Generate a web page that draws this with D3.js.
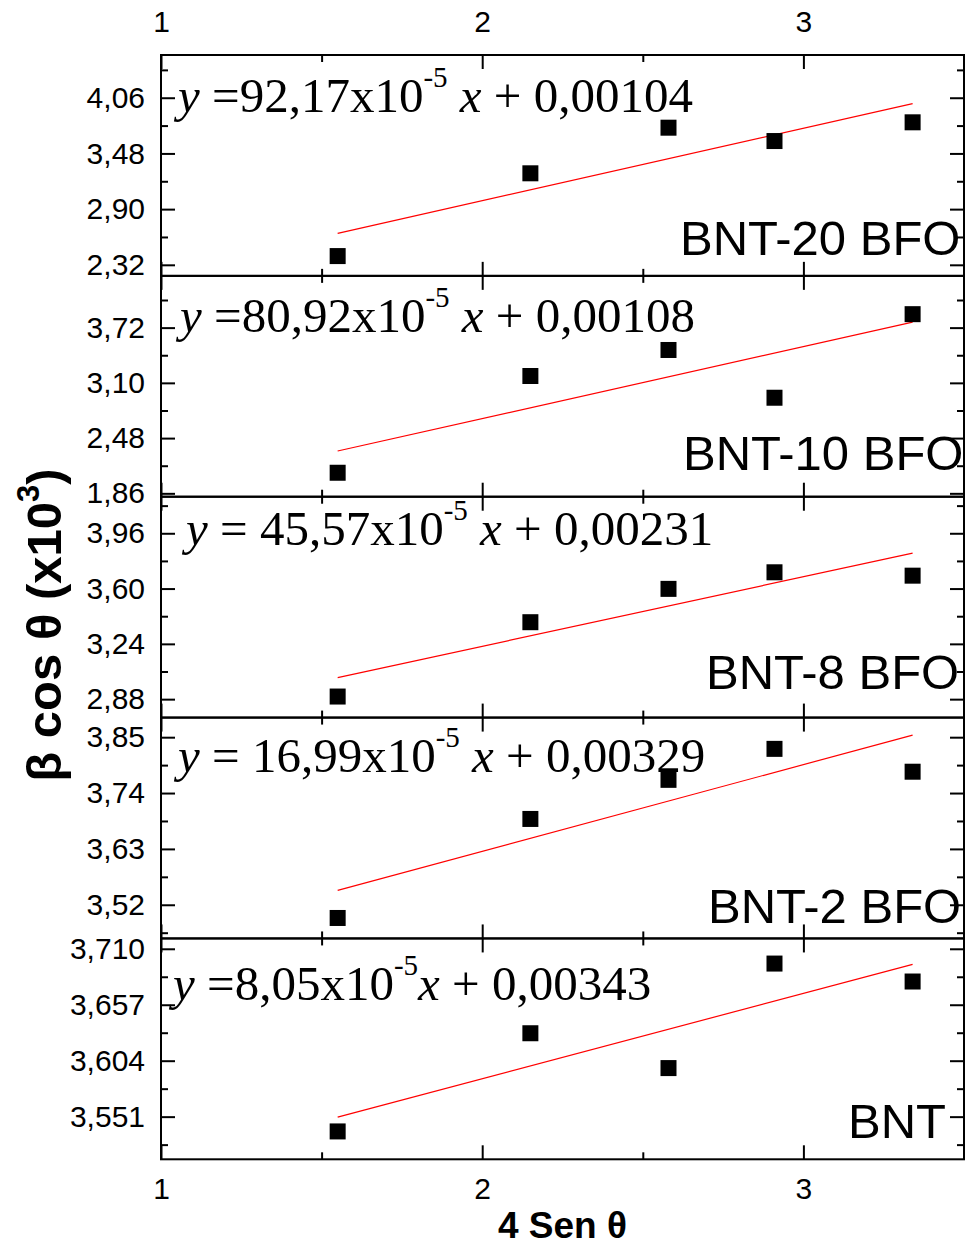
<!DOCTYPE html>
<html>
<head>
<meta charset="utf-8">
<script src="https://cdn.jsdelivr.net/npm/d3@7"></script>
<style>
    body { margin: 0; background: #fff; }
    svg { display: block; }
</style>
</head>
<body>
<main></main>
<script>
const width = 967;
const height = 1245;
const plotLeft = 161;
const plotRight = 964;
const plotTop = 55;
const plotBottom = 1159.3;

// data
const samples = ["BNT-20 BFO", "BNT-10 BFO", "BNT-8 BFO", "BNT-2 BFO", "BNT"];
const xValues = [1.55, 2.15, 2.58, 2.91, 3.34];
const yBNT20 = [2.411, 3.273, 3.748, 3.609, 3.804];
const yBNT10 = [2.091, 3.177, 3.469, 2.933, 3.871];
const yBNT8 = [2.897, 3.381, 3.598, 3.706, 3.684];
const yBNT2 = [3.494, 3.689, 3.766, 3.827, 3.782];
const yBNT = [3.537, 3.630, 3.597, 3.696, 3.679];
const yDomains = [[2.205, 4.505], [1.822, 4.301], [2.76, 4.198], [3.4537, 3.8886], [3.5106, 3.7198]];
const yTicks = [
    [2.32, 2.90, 3.48, 4.06],
    [1.86, 2.48, 3.10, 3.72],
    [2.88, 3.24, 3.60, 3.96],
    [3.52, 3.63, 3.74, 3.85],
    [3.551, 3.604, 3.657, 3.710]
];
const yDecimals = [2, 2, 2, 2, 3];
const xTicks = [1, 2, 3];
const xMinorTicks = [1.5, 2.5];
const slopes = ["92,17", "80,92", "45,57", "16,99", "8,05"];
const intercepts = ["0,00104", "0,00108", "0,00231", "0,00329", "0,00343"];

const series = [yBNT20, yBNT10, yBNT8, yBNT2, yBNT];

// where the texts sit inside each panel
const eqLayout = [
    {x: 178, dy: 56.7, pre: " =", gap: true},
    {x: 180, dy: 55.7, pre: " =", gap: true},
    {x: 186, dy: 48.3, pre: " = ", gap: true},
    {x: 178, dy: 54, pre: " = ", gap: true},
    {x: 173, dy: 61.3, pre: " =", gap: false}
];
const nameLayout = [
    {x: 680, dy: 21},
    {x: 683, dy: 26.7},
    {x: 706, dy: 28.4},
    {x: 708, dy: 15.4},
    {x: 848, dy: 21}
];

const sans = "Arial, 'Liberation Sans', sans-serif";
const serif = "'Times New Roman', 'Liberation Serif', serif";

const svg = d3.select("main")
              .append("svg")
              .attr("width", width)
              .attr("height", height);

const xScale = d3.scaleLinear().domain([1, 3.5]).range([plotLeft, plotRight]);
const panelH = (plotBottom - plotTop) / series.length;

const linearFit = (xs, ys) => {
    const mx = d3.mean(xs);
    const my = d3.mean(ys);
    const sxy = d3.sum(xs, (d, i) => (d - mx) * (ys[i] - my));
    const sxx = d3.sum(xs, (d) => (d - mx) * (d - mx));
    const b = sxy / sxx;
    return (v) => my + b * (v - mx);
};

const styleAxis = (g) => {
    g.select(".domain").remove();
    g.selectAll(".tick line").attr("stroke", "#000").attr("stroke-width", 2);
    g.selectAll(".tick text").attr("fill", "#000");
    g.attr("font-family", sans).attr("font-size", 30);
};

const minorsFor = (ticks, domain) => {
    const step = ticks[1] - ticks[0];
    const out = [];
    for (let k = -4; k < ticks.length + 4; k++) {
        const v = ticks[0] + (k + 0.5) * step;
        if (v > domain[0] && v < domain[1]) out.push(v);
    }
    return out;
};

series.forEach((ys, i) => {
    const y0 = plotTop + i * panelH;
    const y1 = y0 + panelH;
    const yScale = d3.scaleLinear().domain(yDomains[i]).range([y1, y0]);
    const g = svg.append("g");

    // regression line
    const fit = linearFit(xValues, ys);
    const ends = [xValues[0], xValues[xValues.length - 1]];
    g.append("path")
     .datum(ends)
     .attr("d", d3.line().x((d) => xScale(d)).y((d) => yScale(fit(d))))
     .attr("fill", "none")
     .attr("stroke", "#ff0000")
     .attr("stroke-width", 1.2);

    // points
    g.selectAll("rect.pt")
     .data(ys)
     .enter()
     .append("rect")
     .attr("class", "pt")
     .attr("x", (d, j) => xScale(xValues[j]) - 8)
     .attr("y", (d) => yScale(d) - 8)
     .attr("width", 16)
     .attr("height", 16)
     .attr("fill", "#000");

    // equation
    const eq = g.append("text")
                .attr("x", eqLayout[i].x)
                .attr("y", y0 + eqLayout[i].dy)
                .attr("font-family", serif)
                .attr("font-size", 49)
                .attr("fill", "#000");
    eq.append("tspan").attr("font-style", "italic").text("y");
    eq.append("tspan").text(eqLayout[i].pre + slopes[i] + "x10");
    eq.append("tspan").attr("font-size", 29).attr("dy", -25).text("-5");
    eq.append("tspan").attr("dy", 25).attr("font-style", "italic")
      .text((eqLayout[i].gap ? "\u00a0" : "") + "x");
    eq.append("tspan").text(" + " + intercepts[i]);

    // sample name
    g.append("text")
     .attr("x", nameLayout[i].x)
     .attr("y", y1 - nameLayout[i].dy)
     .attr("font-family", sans)
     .attr("font-size", 49)
     .attr("fill", "#000")
     .text(samples[i]);

    // axes, ticks pointing inward
    const minors = minorsFor(yTicks[i], yDomains[i]);
    g.append("g")
     .attr("transform", `translate(${plotLeft},0)`)
     .call(d3.axisLeft(yScale).tickValues(yTicks[i]).tickSize(-14).tickPadding(16)
             .tickFormat((d) => d.toFixed(yDecimals[i]).replace(".", ",")))
     .call(styleAxis);
    g.append("g")
     .attr("transform", `translate(${plotLeft},0)`)
     .call(d3.axisLeft(yScale).tickValues(minors).tickSize(-7).tickFormat(""))
     .call(styleAxis);
    g.append("g")
     .attr("transform", `translate(${plotRight},0)`)
     .call(d3.axisRight(yScale).tickValues(yTicks[i]).tickSize(-14).tickFormat(""))
     .call(styleAxis);
    g.append("g")
     .attr("transform", `translate(${plotRight},0)`)
     .call(d3.axisRight(yScale).tickValues(minors).tickSize(-7).tickFormat(""))
     .call(styleAxis);

    g.append("g")
     .attr("transform", `translate(0,${y0})`)
     .call(d3.axisTop(xScale).tickValues(xTicks).tickSize(-14).tickPadding(23)
             .tickFormat(i === 0 ? d3.format("d") : ""))
     .call(styleAxis);
    g.append("g")
     .attr("transform", `translate(0,${y0})`)
     .call(d3.axisTop(xScale).tickValues(xMinorTicks).tickSize(-7).tickFormat(""))
     .call(styleAxis);
    g.append("g")
     .attr("transform", `translate(0,${y1})`)
     .call(d3.axisBottom(xScale).tickValues(xTicks).tickSize(-14).tickPadding(18)
             .tickFormat(i === series.length - 1 ? d3.format("d") : ""))
     .call(styleAxis);
    g.append("g")
     .attr("transform", `translate(0,${y1})`)
     .call(d3.axisBottom(xScale).tickValues(xMinorTicks).tickSize(-7).tickFormat(""))
     .call(styleAxis);

    g.append("rect")
     .attr("x", plotLeft)
     .attr("y", y0)
     .attr("width", plotRight - plotLeft)
     .attr("height", panelH)
     .attr("fill", "none")
     .attr("stroke", "#000")
     .attr("stroke-width", 2);
});

// axis titles
svg.append("text")
   .attr("x", (plotLeft + plotRight) / 2)
   .attr("y", 1238)
   .attr("text-anchor", "middle")
   .attr("font-family", sans)
   .attr("font-weight", "bold")
   .attr("font-size", 37)
   .text("4 Sen θ");

const yTitle = svg.append("text")
                  .attr("transform", "translate(61,625) rotate(-90)")
                  .attr("text-anchor", "middle")
                  .attr("font-family", sans)
                  .attr("font-weight", "bold")
                  .attr("font-size", 49);
yTitle.append("tspan").text("β cos θ (x10");
yTitle.append("tspan").attr("font-size", 31).attr("dy", -22).text("3");
yTitle.append("tspan").attr("dy", 22).text(")");
</script>
</body>
</html>
